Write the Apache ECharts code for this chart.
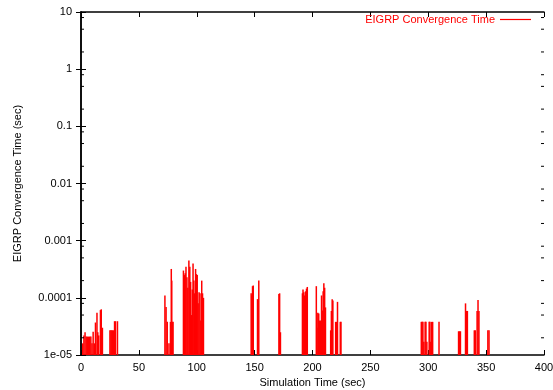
<!DOCTYPE html>
<html>
<head>
<meta charset="utf-8">
<script src="https://cdn.jsdelivr.net/npm/echarts@6/dist/echarts.min.js"></script>
<style>
  html, body { margin: 0; padding: 0; background: #fff; }
  #chart { width: 553px; height: 390px; }
</style>
</head>
<body>
<div id="chart"></div>
<script>
// simulation time (sec) of each convergence event
const simTime = [
  1.5, 2.5, 3.5, 4.5, 5.5, 6.5, 7.5, 8.5, 9.5, 10.5, 11.5, 12.5, 13.8, 14.5, 15.3, 16.8, 17.5, 18.5,
  25, 25.8, 26.6, 27.4, 28.2, 29, 29.8, 31.5,
  72.5, 73.5, 74.5, 76, 77.3, 78, 78.4, 79, 79.5,
  88.5, 89.3, 90, 90.7, 91.5, 92.3, 93.2, 94, 94.7, 95.4, 96.1, 96.8, 97.5, 98.2, 99, 99.7, 100.4,
  101.2, 102, 102.8, 103.5, 104.3, 105, 105.8,
  147, 147.6, 148.2, 148.8, 152.5, 153, 153.6,
  171, 171.6, 172.3,
  191.3, 191.8, 192.5, 193.2, 194, 194.8, 195.5,
  203.3, 203.8, 204.6, 205.4, 206.2, 207, 207.8, 208.5, 209.2, 209.8, 210.5, 211.2,
  215.7, 216.3, 217, 217.6, 220, 220.6, 221.6, 224, 224.6,
  294, 294.7, 295.4, 296.2, 297.3, 298, 298.8, 300.8, 301.5, 302.2, 303, 303.8, 309.3,
  326.2, 327, 327.8, 332.2, 333, 333.8, 339.8, 340.6, 342.2, 343, 343.8, 351.5, 352.5
];
// EIGRP convergence time (sec)
const convTime = [
  1.6e-5, 2.2e-5, 2.5e-5, 2.1e-5, 2.1e-5, 2.1e-5, 2.1e-5, 2.1e-5, 1.6e-5, 2.55e-5, 1.6e-5, 3.7e-5, 5.5e-5, 2.5e-5, 2.2e-5, 6.1e-5, 6.3e-5, 3.0e-5,
  2.7e-5, 2.7e-5, 2.7e-5, 2.7e-5, 2.7e-5, 3.9e-5, 3.9e-5, 3.9e-5,
  1.1e-4, 6.9e-5, 3.8e-5, 1.6e-5, 3.8e-5, 3.2e-4, 2e-4, 3.8e-5, 3.8e-5,
  3e-4, 2.5e-4, 2.7e-4, 3.5e-4, 2.3e-4, 1.5e-4, 4.5e-4, 3.5e-4, 1.9e-4, 5e-5, 1.4e-4, 4e-4, 2e-4, 1.2e-4, 3.2e-4, 2.6e-4, 2.5e-4,
  8e-5, 1.25e-4, 1.2e-4, 4e-5, 2e-4, 1.2e-4, 1e-4,
  1.2e-4, 1.1e-4, 1.6e-4, 1.65e-4, 9.5e-5, 9e-5, 2e-4,
  1.17e-4, 1.2e-4, 2.5e-5,
  1.2e-4, 1.4e-4, 1.25e-4, 1.1e-4, 1.3e-4, 1.45e-4, 1.55e-4,
  1.6e-4, 3e-5, 5.5e-5, 5.3e-5, 4e-5, 4e-5, 1.1e-4, 6e-5, 1.3e-4, 1.8e-4, 1.5e-4, 6.8e-5,
  2.7e-5, 5.9e-5, 9.4e-5, 9e-5, 3.8e-5, 3.8e-5, 8.5e-5, 3.8e-5, 3.8e-5,
  3.8e-5, 3.8e-5, 3.8e-5, 1.7e-5, 3.8e-5, 3.8e-5, 1.7e-5, 3.8e-5, 3.8e-5, 1.7e-5, 3.8e-5, 3.8e-5, 3.8e-5,
  2.6e-5, 2.6e-5, 2.6e-5, 8e-5, 5.9e-5, 5.9e-5, 2.7e-5, 2.7e-5, 5.9e-5, 9.2e-5, 5.9e-5, 2.7e-5, 2.7e-5
];
const yTickLabels = ['1e-05', '0.0001', '0.001', '0.01', '0.1', '1', '10'];
const minorTickValues = [
  2e-5, 5e-5, 8e-5, 2e-4, 5e-4, 8e-4, 2e-3, 5e-3, 8e-3,
  2e-2, 5e-2, 8e-2, 0.2, 0.5, 0.8, 2, 5, 8
];

const Y_MIN = 1e-5, Y_MAX = 10;
const X_MIN = 0, X_MAX = 400;
const FONT = 'Liberation Sans, Arial, Helvetica, sans-serif';
const RED = '#ff0000';

const chart = echarts.init(document.getElementById('chart'));

const impulses = simTime.map((t, i) => [t, convTime[i]]);

function renderImpulse(params, api) {
  const top = api.coord([api.value(0), api.value(1)]);
  const base = api.coord([api.value(0), Y_MIN]);
  return {
    type: 'line',
    shape: { x1: top[0], y1: top[1], x2: base[0], y2: base[1] },
    style: { stroke: RED, lineWidth: 1.5 }
  };
}

function renderMinorTick(params, api) {
  const l = api.coord([X_MIN, api.value(0)]);
  const r = api.coord([X_MAX, api.value(0)]);
  return {
    type: 'group',
    children: [
      { type: 'line', shape: { x1: l[0], y1: l[1], x2: l[0] + 3, y2: l[1] }, style: { stroke: '#000', lineWidth: 1 } },
      { type: 'line', shape: { x1: r[0], y1: r[1], x2: r[0] - 3, y2: r[1] }, style: { stroke: '#000', lineWidth: 1 } }
    ]
  };
}

const tickStyle = { inside: true, length: 5, lineStyle: { color: '#000', width: 1 } };
const lineStyle = { show: true, lineStyle: { color: '#000', width: 1.5 } };

const option = {
  animation: false,
  backgroundColor: '#fff',
  color: [RED],
  textStyle: { fontFamily: FONT },
  grid: { left: 81, right: 9, top: 12, bottom: 35, outerBoundsMode: 'none', containLabel: false },
  legend: {
    data: [{ name: 'EIGRP Convergence Time', icon: 'rect' }],
    right: 22,
    top: 14,
    padding: 0,
    align: 'right',
    itemWidth: 31,
    itemHeight: 1.2,
    itemGap: 7,
    itemStyle: { color: RED, borderColor: RED, borderWidth: 0, opacity: 1 },
    lineStyle: { color: RED },
    textStyle: { color: RED, fontSize: 11, fontFamily: FONT }
  },
  xAxis: [
    {
      type: 'value', min: X_MIN, max: X_MAX, interval: 50,
      name: 'Simulation Time (sec)', nameLocation: 'middle', nameGap: 21,
      nameTextStyle: { fontSize: 11, color: '#000', fontFamily: FONT },
      axisLine: lineStyle, axisTick: tickStyle,
      axisLabel: { fontSize: 11, color: '#000', margin: 7, fontFamily: FONT },
      splitLine: { show: false }
    },
    {
      type: 'value', min: X_MIN, max: X_MAX, interval: 50, position: 'top',
      axisLine: lineStyle, axisTick: tickStyle,
      axisLabel: { show: false }, splitLine: { show: false }
    }
  ],
  yAxis: [
    {
      type: 'log', logBase: 10, min: Y_MIN, max: Y_MAX, interval: 1,
      name: 'EIGRP Convergence Time (sec)', nameLocation: 'middle', nameGap: 58,
      nameTextStyle: { fontSize: 11, color: '#000', fontFamily: FONT },
      axisLine: lineStyle, axisTick: tickStyle,
      axisLabel: {
        fontSize: 11, color: '#000', margin: 9, fontFamily: FONT,
        formatter: v => yTickLabels[Math.round(Math.log10(v)) + 5]
      },
      splitLine: { show: false }
    },
    {
      type: 'log', logBase: 10, min: Y_MIN, max: Y_MAX, interval: 1, position: 'right',
      axisLine: lineStyle, axisTick: tickStyle,
      axisLabel: { show: false }, splitLine: { show: false }
    }
  ],
  series: [
    {
      name: 'EIGRP Convergence Time',
      type: 'custom',
      xAxisIndex: 0, yAxisIndex: 0,
      renderItem: renderImpulse,
      encode: { x: 0, y: 1 },
      itemStyle: { color: RED, borderColor: RED },
      data: impulses,
      clip: true
    },
    {
      type: 'custom',
      xAxisIndex: 0, yAxisIndex: 0,
      renderItem: renderMinorTick,
      encode: { y: 0 },
      data: minorTickValues.map(v => [v]),
      silent: true
    }
  ]
};

chart.setOption(option);
</script>
</body>
</html>
